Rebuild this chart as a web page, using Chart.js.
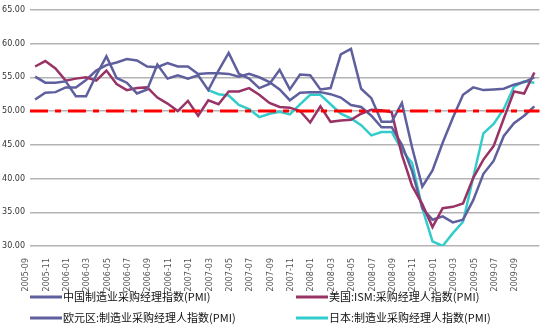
<!DOCTYPE html>
<html>
<head>
<meta charset="utf-8">
<script src="https://cdn.jsdelivr.net/npm/chart.js@4/dist/chart.umd.min.js"></script>
<style>
  html, body { margin: 0; padding: 0; background: #fff; }
</style>
</head>
<body>
<canvas id="myChart" width="548" height="328"></canvas>
<script>
// months on the category axis (2005-09 .. 2009-10)
const months = [
  "2005-09", "2005-10", "2005-11", "2005-12",
  "2006-01", "2006-02", "2006-03", "2006-04", "2006-05", "2006-06",
  "2006-07", "2006-08", "2006-09", "2006-10", "2006-11", "2006-12",
  "2007-01", "2007-02", "2007-03", "2007-04", "2007-05", "2007-06",
  "2007-07", "2007-08", "2007-09", "2007-10", "2007-11", "2007-12",
  "2008-01", "2008-02", "2008-03", "2008-04", "2008-05", "2008-06",
  "2008-07", "2008-08", "2008-09", "2008-10", "2008-11", "2008-12",
  "2009-01", "2009-02", "2009-03", "2009-04", "2009-05", "2009-06",
  "2009-07", "2009-08", "2009-09", "2009-10"
];

const chinaPmi = [
  55.1, 54.2, 54.2, 54.4, 52.2, 52.2, 55.3, 58.1, 54.9, 54.2,
  52.6, 53.2, 56.9, 54.8, 55.3, 54.8, 55.3, 53.1, 56.0, 58.6,
  55.5, 54.8, 53.4, 54.0, 56.1, 53.2, 55.4, 55.3, 53.2, 53.4,
  58.4, 59.2, 53.3, 51.9, 48.4, 48.4, 51.2, 44.6, 38.8, 41.2,
  45.3, 49.0, 52.4, 53.5, 53.1, 53.2, 53.3, 53.9, 54.3, 55.0
];

const usIsm = [
  56.6, 57.4, 56.3, 54.5, 54.8, 55.0, 54.5, 56.0, 54.0, 53.1,
  53.4, 53.5, 52.0, 51.1, 50.0, 51.5, 49.3, 51.6, 51.0, 52.9,
  52.9, 53.4, 52.4, 51.2, 50.6, 50.5, 50.0, 48.3, 50.7, 48.4,
  48.6, 48.7, 49.6, 50.2, 50.1, 49.8, 43.5, 38.9, 36.2, 32.8,
  35.6, 35.8, 36.3, 40.1, 42.8, 44.8, 48.9, 52.9, 52.6, 55.7
];

const euroPmi = [
  51.7, 52.7, 52.8, 53.5, 53.5, 54.6, 56.0, 56.8, 57.2, 57.7,
  57.5, 56.6, 56.5, 57.1, 56.6, 56.6, 55.5, 55.6, 55.6, 55.5,
  55.1, 55.5, 55.0, 54.3, 53.2, 51.6, 52.7, 52.8, 52.8, 52.5,
  52.0, 50.9, 50.6, 49.3, 47.6, 47.6, 45.0, 41.1, 35.6, 33.9,
  34.4, 33.5, 33.9, 36.8, 40.7, 42.6, 46.3, 48.2, 49.3, 50.7
];

// Japan series starts in 2007-02
const japanPmi = [
  null, null, null, null, null, null, null, null, null, null,
  null, null, null, null, null, null, null, 53.1, 52.5, 52.3,
  50.9, 50.3, 49.1, 49.6, 49.9, 49.5, 51.0, 52.4, 52.4, 51.0,
  49.6, 48.9, 47.9, 46.4, 46.9, 46.9, 44.2, 42.3, 35.6, 30.7,
  30.0, 31.9, 33.6, 40.2, 46.7, 48.1, 50.3, 53.6, 54.4, 54.2
];

const seriesNames = [
  "中国制造业采购经理指数(PMI)",
  "美国:ISM:采购经理人指数(PMI)",
  "欧元区:制造业采购经理人指数(PMI)",
  "日本:制造业采购经理人指数(PMI)"
];

const threshold = 50;

const BLUE = "#5f5f9e";
const PLUM = "#993366";
const CYAN = "#33cccc";

// red dash-dot line at 50
const thresholdLine = {
  id: "thresholdLine",
  afterDatasetsDraw(chart) {
    const { ctx, chartArea, scales } = chart;
    const y = scales.y.getPixelForValue(threshold);
    ctx.save();
    ctx.strokeStyle = "#ff0000";
    ctx.lineWidth = 3;
    ctx.setLineDash([18, 7, 6, 7]);
    ctx.beginPath();
    ctx.moveTo(chartArea.left, y);
    ctx.lineTo(chartArea.right, y);
    ctx.stroke();
    ctx.restore();
  }
};

// legend in two fixed columns, like the original
const fixedLegend = {
  id: "fixedLegend",
  afterDraw(chart) {
    const ctx = chart.ctx;
    const spots = [[30, 297], [296, 297], [30, 318], [296, 318]];
    ctx.save();
    ctx.font = "11px 'Noto Sans CJK SC'";
    ctx.textBaseline = "middle";
    chart.data.datasets.forEach((ds, n) => {
      const [x, y] = spots[n];
      ctx.strokeStyle = ds.borderColor;
      ctx.lineWidth = 3;
      ctx.beginPath();
      ctx.moveTo(x, y);
      ctx.lineTo(x + 32, y);
      ctx.stroke();
      ctx.fillStyle = "#111";
      ctx.fillText(ds.label, x + 33, y);
    });
    ctx.restore();
  }
};

const ctx = document.getElementById("myChart").getContext("2d");

new Chart(ctx, {
  type: "line",
  data: {
    labels: months,
    datasets: [
      { label: seriesNames[0], data: chinaPmi, borderColor: BLUE },
      { label: seriesNames[1], data: usIsm, borderColor: PLUM },
      { label: seriesNames[2], data: euroPmi, borderColor: BLUE },
      { label: seriesNames[3], data: japanPmi, borderColor: CYAN }
    ]
  },
  options: {
    responsive: false,
    animation: false,
    layout: { padding: { top: 9, right: 3, left: 0, bottom: 0 } },
    elements: {
      line: { borderWidth: 2.5, tension: 0 },
      point: { radius: 0 }
    },
    plugins: {
      legend: { display: false },
      tooltip: { enabled: false }
    },
    scales: {
      x: {
        offset: true,
        grid: { display: false },
        border: { display: false },
        afterFit: (scale) => { scale.height = 82; },
        ticks: {
          autoSkip: false,
          minRotation: 90,
          maxRotation: 90,
          padding: 4,
          labelOffset: -9,
          color: "#555",
          font: { family: "'DejaVu Sans'", size: 8 },
          callback: function (val, i) {
            return i % 2 === 0 ? this.getLabelForValue(val) : "";
          }
        }
      },
      y: {
        min: 30,
        max: 65,
        border: { display: false },
        grid: { color: "#b4b4b4", lineWidth: 1.5, drawTicks: false },
        afterFit: (scale) => { scale.width = 30; },
        ticks: {
          stepSize: 5,
          padding: 5,
          color: "#333",
          font: { family: "'DejaVu Sans'", size: 8 },
          callback: (v) => v.toFixed(2)
        }
      }
    }
  },
  plugins: [thresholdLine, fixedLegend]
});
</script>
</body>
</html>
